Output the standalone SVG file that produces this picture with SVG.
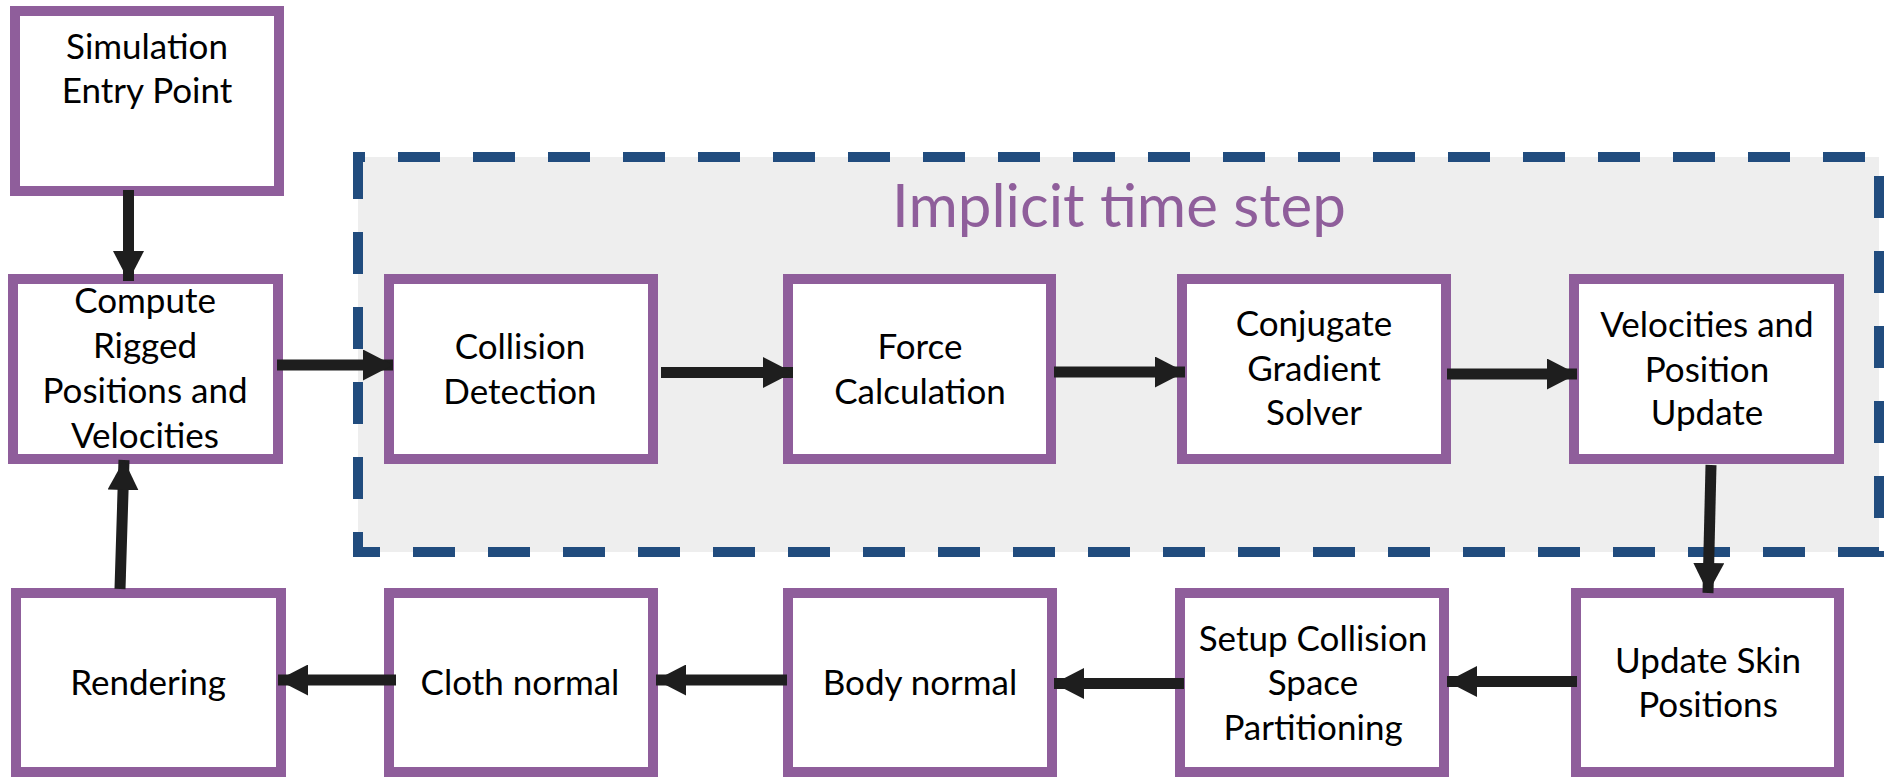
<svg xmlns="http://www.w3.org/2000/svg" width="1894" height="777" viewBox="0 0 1894 777">
  <defs>
    <style>
      .box { fill: #ffffff; stroke: #8f5e9b; stroke-width: 10; }
      .lbl { font-family: Lato, "Open Sans", sans-serif; font-size: 35px; fill: #000000; text-anchor: middle; }
      .title { font-family: Lato, "Open Sans", sans-serif; font-size: 60px; fill: #8f5e9b; text-anchor: middle; }
      .edge { stroke: #1e1e1e; stroke-width: 11; fill: none; }
      .region { fill: #eeeeee; stroke: #214c7e; stroke-width: 10; stroke-dasharray: 42 33; }
    </style>
    <marker id="head" viewBox="0 0 30 31" refX="30" refY="15.5" markerWidth="30" markerHeight="31" markerUnits="userSpaceOnUse" orient="auto">
      <path d="M0,0 L30,15.5 L0,31 Z" fill="#1e1e1e"/>
    </marker>
  </defs>

  <!-- implicit time step region -->
  <g id="implicit-step">
    <path class="region" d="M358,157 V552 H1879 V157 Z"/>
    <text class="title" x="1119" y="227">Implicit time step</text>
  </g>

  <g id="sim-entry">
    <rect class="box" x="15" y="11" width="264" height="180"/>
    <text class="lbl" x="147" y="59">Simulation</text>
    <text class="lbl" x="147" y="103">Entry Point</text>
  </g>

  <g id="compute-rigged">
    <rect class="box" x="13" y="279" width="265" height="180"/>
    <text class="lbl" x="145" y="313">Compute</text>
    <text class="lbl" x="145" y="358">Rigged</text>
    <text class="lbl" x="145" y="403">Positions and</text>
    <text class="lbl" x="145" y="448">Velocities</text>
  </g>

  <g id="collision-detection">
    <rect class="box" x="389" y="279" width="264" height="180"/>
    <text class="lbl" x="520" y="359">Collision</text>
    <text class="lbl" x="520" y="404">Detection</text>
  </g>

  <g id="force-calculation">
    <rect class="box" x="788" y="279" width="263" height="180"/>
    <text class="lbl" x="920" y="359">Force</text>
    <text class="lbl" x="920" y="404">Calculation</text>
  </g>

  <g id="cg-solver">
    <rect class="box" x="1182" y="279" width="264" height="180"/>
    <text class="lbl" x="1314" y="336">Conjugate</text>
    <text class="lbl" x="1314" y="381">Gradient</text>
    <text class="lbl" x="1314" y="425">Solver</text>
  </g>

  <g id="vel-pos-update">
    <rect class="box" x="1574" y="279" width="265" height="180"/>
    <text class="lbl" x="1707" y="337">Velocities and</text>
    <text class="lbl" x="1707" y="382">Position</text>
    <text class="lbl" x="1707" y="425">Update</text>
  </g>

  <g id="update-skin">
    <rect class="box" x="1576" y="593" width="263" height="179"/>
    <text class="lbl" x="1708" y="673">Update Skin</text>
    <text class="lbl" x="1708" y="717">Positions</text>
  </g>

  <g id="setup-partitioning">
    <rect class="box" x="1180" y="593" width="264" height="179"/>
    <text class="lbl" x="1313" y="651">Setup Collision</text>
    <text class="lbl" x="1313" y="695">Space</text>
    <text class="lbl" x="1313" y="740">Partitioning</text>
  </g>

  <g id="body-normal">
    <rect class="box" x="788" y="593" width="264" height="179"/>
    <text class="lbl" x="920" y="695">Body normal</text>
  </g>

  <g id="cloth-normal">
    <rect class="box" x="389" y="593" width="264" height="179"/>
    <text class="lbl" x="520" y="695">Cloth normal</text>
  </g>

  <g id="rendering">
    <rect class="box" x="16" y="593" width="265" height="179"/>
    <text class="lbl" x="148" y="695">Rendering</text>
  </g>

  <!-- connectors -->
  <g id="connectors">
    <line class="edge" x1="128.5" y1="190" x2="128.5" y2="281" marker-end="url(#head)"/>
    <line class="edge" x1="277" y1="365" x2="393" y2="365" marker-end="url(#head)"/>
    <line class="edge" x1="661" y1="372.5" x2="793" y2="372.5" marker-end="url(#head)"/>
    <line class="edge" x1="1054" y1="372" x2="1185" y2="372" marker-end="url(#head)"/>
    <line class="edge" x1="1447" y1="374" x2="1577" y2="374" marker-end="url(#head)"/>
    <line class="edge" x1="1711" y1="465" x2="1708" y2="593" marker-end="url(#head)"/>
    <line class="edge" x1="1577" y1="681.5" x2="1447" y2="681.5" marker-end="url(#head)"/>
    <line class="edge" x1="1184" y1="683.5" x2="1054" y2="683.5" marker-end="url(#head)"/>
    <line class="edge" x1="787" y1="680" x2="656" y2="680" marker-end="url(#head)"/>
    <line class="edge" x1="396" y1="680" x2="278" y2="680" marker-end="url(#head)"/>
    <line class="edge" x1="120" y1="589" x2="124" y2="460" marker-end="url(#head)"/>
  </g>
</svg>
